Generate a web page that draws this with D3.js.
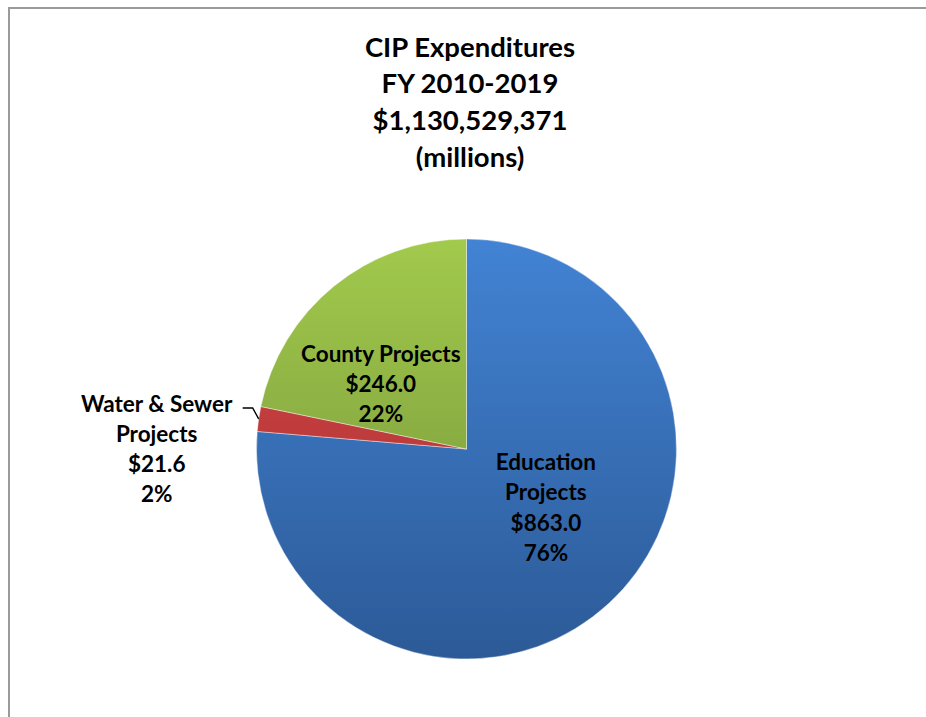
<!DOCTYPE html>
<html>
<head>
<meta charset="utf-8">
<script src="https://cdn.jsdelivr.net/npm/d3@7"></script>
<style>
  body { margin: 0; background: #fff; }
  svg text { font-family: Lato, "Open Sans", sans-serif; font-weight: bold; fill: #000; }
</style>
</head>
<body>
<div id="chart"></div>
<script>
const titleLines = ['CIP Expenditures', 'FY 2010-2019', '$1,130,529,371', '(millions)'];
const categories = ['Education Projects', 'Water & Sewer Projects', 'County Projects'];
const amounts = [863.0, 21.6, 246.0];
const percents = ['76%', '2%', '22%'];
const labelLines = [['Education', 'Projects'], ['Water & Sewer', 'Projects'], ['County Projects']];

const w = 926;
const h = 717;
const cx = 466.5;
const cy = 449;
const radius = 210;

const svg = d3.select('#chart')
  .append('svg')
  .attr('width', w)
  .attr('height', h);

// chart frame
svg.append('rect')
  .attr('x', 9)
  .attr('y', 8)
  .attr('width', w + 20)
  .attr('height', h + 20)
  .attr('fill', 'none')
  .attr('stroke', '#9a9a9a')
  .attr('stroke-width', 2);

svg.append('text')
  .attr('text-anchor', 'middle')
  .style('font-size', '27.5px')
  .selectAll('tspan')
  .data(titleLines)
  .enter()
  .append('tspan')
  .attr('x', 470)
  .attr('y', (d, i) => 56.5 + i * 36.7)
  .text(d => d);

const fills = [
  ['#4283d4', '#2c5a97'],
  ['#d64848', '#a52e2e'],
  ['#a2ca4c', '#708e38']
];

const defs = svg.append('defs');
fills.forEach(function(c, i) {
  const gr = defs.append('linearGradient')
    .attr('id', 'grad' + i)
    .attr('gradientUnits', 'userSpaceOnUse')
    .attr('x1', 0).attr('y1', -radius)
    .attr('x2', 0).attr('y2', radius);
  gr.append('stop').attr('offset', '0%').attr('stop-color', c[0]);
  gr.append('stop').attr('offset', '100%').attr('stop-color', c[1]);
});

const pie = d3.pie().sort(null).value(d => d);
const arcs = pie(amounts);

const arc = d3.arc().innerRadius(0).outerRadius(radius);

const g = svg.append('g')
  .attr('transform', 'translate(' + cx + ',' + cy + ')');

g.selectAll('path')
  .data(arcs)
  .enter()
  .append('path')
  .attr('d', arc)
  .attr('fill', (d, i) => 'url(#grad' + i + ')')
  .attr('stroke', 'rgba(255,255,255,0.5)')
  .attr('stroke-width', 0.8);

// label placement (inside for big slices, outside with a leader for the small one)
const labelArc = d3.arc().innerRadius(104).outerRadius(104);
const nudges = [[9, -18], [0, 0], [-20, 16]];
const lineH = 30.2;

arcs.forEach(function(d, i) {
  const lines = labelLines[i].concat(['$' + amounts[i].toFixed(1), percents[i]]);
  let x, y;
  if (i === 1) {
    const a = (d.startAngle + d.endAngle) / 2;
    const px = Math.sin(a) * radius;
    const py = -Math.cos(a) * radius;
    const elbow = [px - 6, py - 11];
    const end = [elbow[0] - 10, elbow[1]];
    g.append('path')
      .attr('d', d3.line()([[px, py], elbow, end]))
      .attr('fill', 'none')
      .attr('stroke', '#000')
      .attr('stroke-width', 1.4);
    x = end[0] - 86;
    y = end[1] + 41;
  } else {
    const c = labelArc.centroid(d);
    x = c[0] + nudges[i][0];
    y = c[1] + nudges[i][1];
  }
  const top = y - (lines.length - 1) * lineH / 2;
  g.append('text')
    .attr('text-anchor', 'middle')
    .style('font-size', '22.5px')
    .selectAll('tspan')
    .data(lines)
    .enter()
    .append('tspan')
    .attr('x', x)
    .attr('y', (t, j) => top + j * lineH)
    .attr('dy', '0.35em')
    .text(t => t);
});
</script>
</body>
</html>
